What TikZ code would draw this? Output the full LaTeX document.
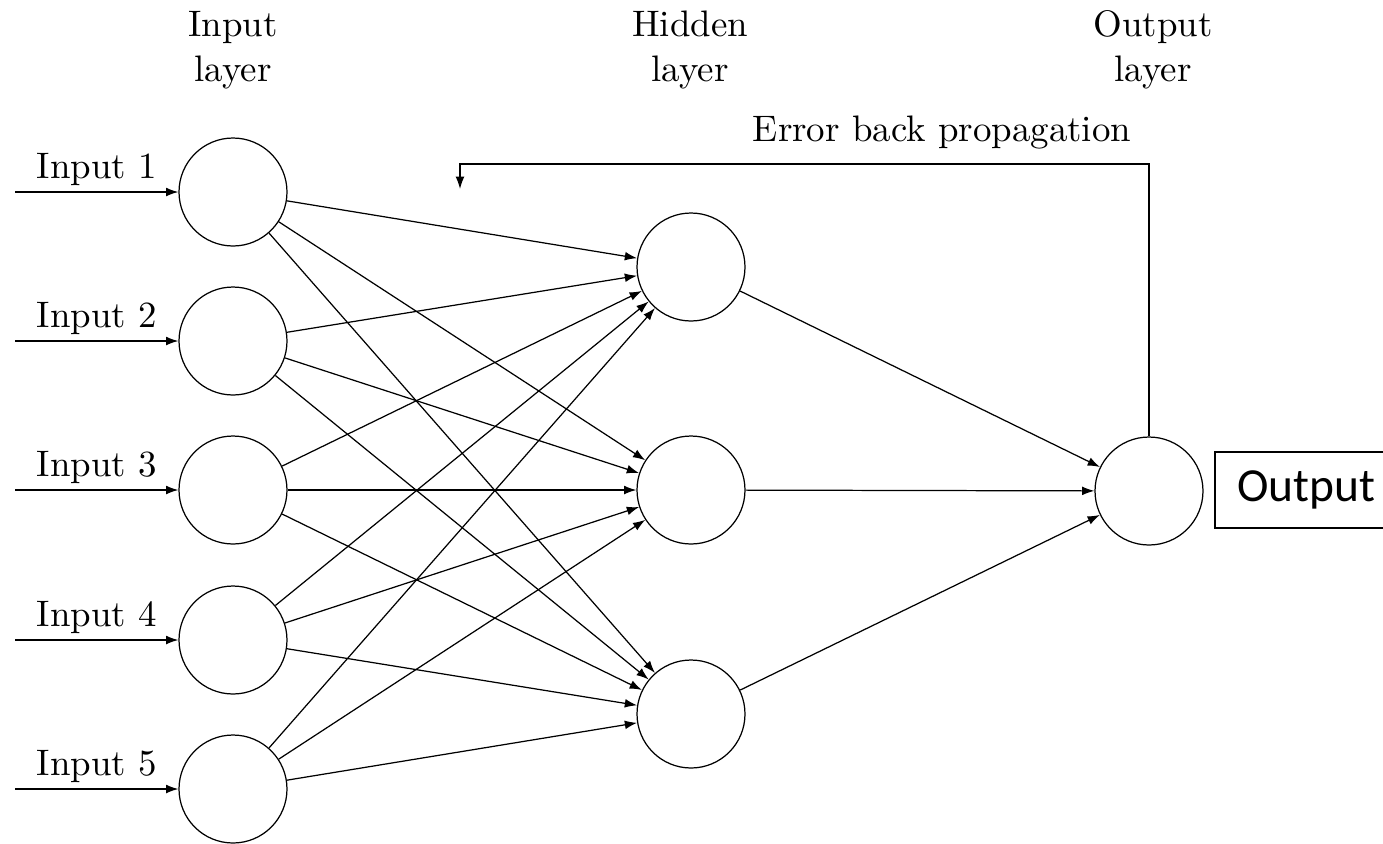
\documentclass[tikz,border=0pt]{standalone}
\usepackage{fontspec}
\newfontfamily\boxfont{Carlito}
\newfontfamily\cmten{lmroman10-regular.otf}
\usetikzlibrary{arrows.meta,positioning}

\begin{document}
\begin{tikzpicture}[x=0.02cm, y=-0.02cm,
    neuron/.style={draw, circle, minimum size=2.16cm, inner sep=0pt, line width=0.7pt},
    arrow/.style={-{Latex[length=7pt,width=5pt]}, line width=0.7pt},
    lbl/.style={font=\cmten\fontsize{21}{25.5}\selectfont, align=center}
]
    \clip (0,0) rectangle (1383,843);

    % layers
    \node[neuron] (in1) at (233,192) {};
    \node[neuron] (in2) at (233,341) {};
    \node[neuron] (in3) at (233,490) {};
    \node[neuron] (in4) at (233,640) {};
    \node[neuron] (in5) at (233,789) {};
    \node[neuron] (hid1) at (691,267) {};
    \node[neuron] (hid2) at (691,490) {};
    \node[neuron] (hid3) at (691,714) {};
    \node[neuron] (out) at (1149,491) {};
    \node[draw, line width=0.7pt, minimum width=3.64cm, minimum height=1.52cm,
          font=\boxfont\fontsize{27}{31}\selectfont] (res) at (1306,490) {Output};

    \node[lbl] (inlayer) at (233,50) {Input\\layer};
    \node[lbl] (hidlayer) at (690,50) {Hidden\\layer};
    \node[lbl] (outlayer) at (1153,50) {Output\\layer};
    \node[lbl] (bplabel) at (942,132) {Error back propagation};

    % inputs
    \foreach \i in {1,...,5} {
        \coordinate[left=3.26cm of in\i] (src\i);
        \draw[arrow] (src\i) -- node[lbl, above] {Input \i} (in\i);
    }

    % weights
    \foreach \i in {1,...,5}
        \foreach \j in {1,2,3}
            \draw[arrow] (in\i) -- (hid\j);
    \foreach \j in {1,2,3}
        \draw[arrow] (hid\j) -- (out);

    % feedback
    \coordinate (fbturn) at (460,164);
    \coordinate (fbend) at (460,189);
    \draw[arrow] (out.north) |- (fbturn) -- (fbend);
\end{tikzpicture}
\end{document}
